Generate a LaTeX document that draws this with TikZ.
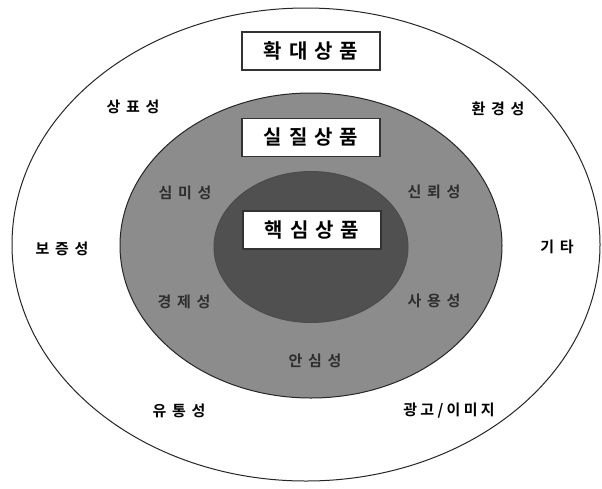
\documentclass[tikz,border=0pt]{standalone}
\usepackage{fontspec}
\newfontfamily\krfont{Noto Sans CJK KR}[BoldFont={* Bold}]
\usetikzlibrary{shapes.geometric}
\definecolor{midgray}{HTML}{8C8C8C}
\definecolor{coregray}{HTML}{505050}
\definecolor{innertext}{HTML}{2E2E2E}
\tikzset{
  ring/.style={draw=black!85, line width=1pt},
  titlebox/.style={draw=black!80, line width=1.2pt, fill=white, minimum width=138pt, minimum height=38pt, inner sep=0pt,
    font=\krfont\bfseries\fontsize{20}{20}\selectfont\addfontfeatures{LetterSpace=35}},
  outerlbl/.style={font=\krfont\bfseries\fontsize{15}{15}\selectfont\addfontfeatures{LetterSpace=38}, text=black, inner sep=0pt},
  innerlbl/.style={font=\krfont\bfseries\fontsize{15}{15}\selectfont\addfontfeatures{LetterSpace=38}, text=innertext, inner sep=0pt},
}
\begin{document}
\begin{tikzpicture}[x=1pt,y=-1pt]
\useasboundingbox (0,0) rectangle (602,488);
\fill[white] (0,0) rectangle (602,488);
% rings
\draw[ring] (306,244.5) ellipse [x radius=294, y radius=236.5];
\draw[ring, fill=midgray] (311,245.5) ellipse [x radius=191, y radius=152.5];
\draw[ring, fill=coregray, draw=black!70] (311,247) ellipse [x radius=97, y radius=75.5];
% title boxes
\node[titlebox] (expanded) at (311,51) {확대상품};
\node[titlebox] (actual) at (311,137.5) {실질상품};
\node[titlebox] (core) at (312,230) {핵심상품};
% outer labels
\node[outerlbl] (brand) at (133,107) {상표성};
\node[outerlbl] (env) at (498,109) {환경성};
\node[outerlbl] (warranty) at (62,249) {보증성};
\node[outerlbl] (etc) at (557,247) {기타};
\node[outerlbl] (dist) at (179,411) {유통성};
\node[outerlbl, font=\krfont\bfseries\fontsize{15}{15}\selectfont\addfontfeatures{LetterSpace=22}] (ad) at (449,411) {광고/이미지};
% inner labels
\node[innerlbl] (aesth) at (185,193) {심미성};
\node[innerlbl] (trust) at (434,192) {신뢰성};
\node[innerlbl] (econ) at (184,302) {경제성};
\node[innerlbl] (usab) at (434,301) {사용성};
\node[innerlbl] (safe) at (315,361) {안심성};
\end{tikzpicture}
\end{document}
